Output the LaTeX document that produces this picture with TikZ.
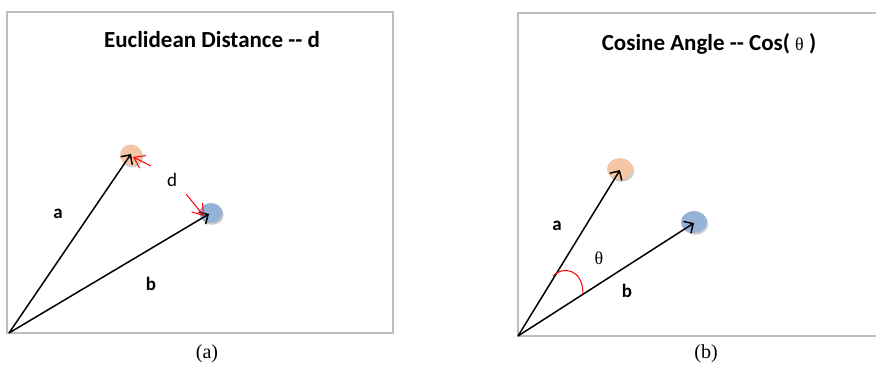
\documentclass[tikz,border=0pt]{standalone}
\usepackage{fontspec}
\setmainfont{Liberation Serif}
\newfontfamily\carlito{Carlito}
\usetikzlibrary{arrows.meta,shadows,shapes.geometric}
\definecolor{peach}{HTML}{F4C6A6}
\definecolor{skyb}{HTML}{95B3D7}
\definecolor{framegray}{HTML}{BEBEBE}
\tikzset{
  x=1pt, y=-1pt,
  panel/.style={draw=framegray, line width=1.8pt},
  pt/.style={ellipse, minimum width=22pt, minimum height=21pt, inner sep=0pt, drop shadow={shadow xshift=1.2pt, shadow yshift=-1.8pt, opacity=0.4}},
  vec/.style={line width=1.5pt, -{Straight Barb[length=7pt,width=14pt,line width=1.5pt]}},
  redv/.style={red, line width=1pt, -{Straight Barb[length=10pt,width=14pt,line width=1pt]}},
  title/.style={font=\carlito\bfseries\fontsize{23}{26}\selectfont},
  lab/.style={font=\carlito\bfseries\fontsize{19}{22}\selectfont},
  captext/.style={font=\fontsize{20}{23}\selectfont}
}
\begin{document}
\begin{tikzpicture}
\useasboundingbox (0,0) rectangle (876,366);
% panel (a)
\draw[panel] (7,12) rectangle (393,333);
\node[title] (ta) at (212,40) {Euclidean Distance -- d};
\coordinate (Oa) at (9,333);
\node[pt, fill=peach] (Aa) at (131,155) {};
\node[pt, fill=skyb, minimum width=23pt, minimum height=20pt] (Ba) at (211,213) {};
\draw[vec] (Oa) -- ([yshift=1pt]Aa.center);
\draw[vec] (Oa) -- ([xshift=-2pt,yshift=-1pt]Ba.center);
\coordinate (r1) at (151,166);
\coordinate (r2) at (186,194);
\draw[redv] (r1) -- ([xshift=2pt,yshift=-2pt]Aa.center);
\draw[redv] (r2) -- ([xshift=-7pt,yshift=-3pt]Ba.center);
\node[font=\carlito\fontsize{19}{22}\selectfont] (d) at (172,180) {d};
\node[lab] (la) at (58,214) {a};
\node[lab] (lb) at (151,284) {b};
\node[captext] (ca) at (207,354) {(a)};
% panel (b)
\begin{scope}
\clip (0,0) rectangle (876,366);
\draw[panel] (518,13) rectangle (880,336);
\end{scope}
\node[title] (tb) at (709,44) {Cosine Angle -- Cos( {\rmfamily\mdseries\fontsize{18}{20}\selectfont θ} )};
\coordinate (Ob) at (518,336);
\node[pt, fill=peach, minimum width=26pt, minimum height=22pt] (Ab) at (620,169) {};
\node[pt, fill=skyb, minimum width=26pt, minimum height=22pt] (Bb) at (694,222) {};
\draw[vec] (Ob) -- ([yshift=-1pt]Ab.center);
\draw[vec] (Ob) -- ([yshift=-1pt]Bb.center);
\coordinate (arcA) at (553,276);
\coordinate (arcB) at (583,294);
\draw[red, line width=1pt] (arcA) .. controls (562,266) and (583,268) .. (arcB);
\node[font=\fontsize{18}{20}\selectfont] (th) at (599,258) {θ};
\node[lab] (la2) at (557,226) {a};
\node[lab] (lb2) at (627,291) {b};
\node[captext] (cb) at (706,354) {(b)};
\end{tikzpicture}
\end{document}
